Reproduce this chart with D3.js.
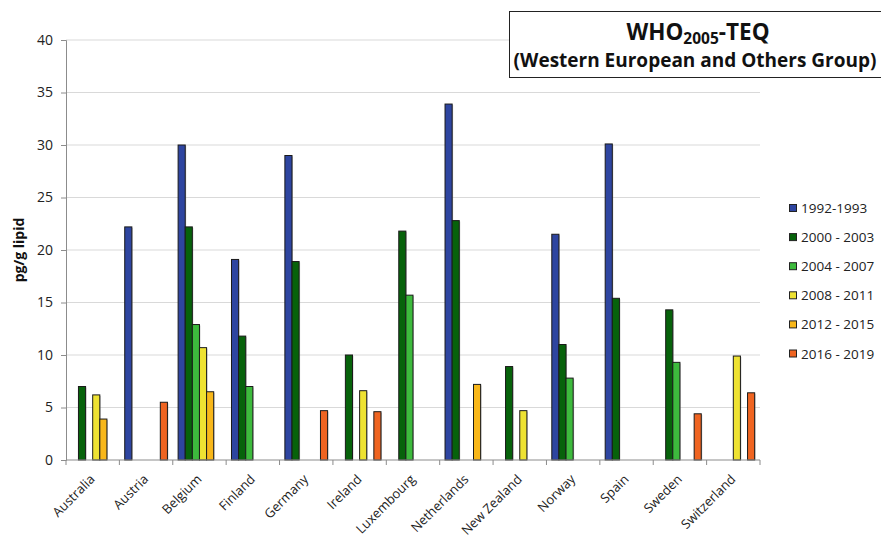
<!DOCTYPE html>
<html><head><meta charset="utf-8">
<script src="https://cdn.jsdelivr.net/npm/d3@7/dist/d3.min.js"></script>
<style>body{margin:0;background:#fff}svg{display:block;font-family:"Open Sans",sans-serif}</style>
</head><body><svg id="c" width="881" height="538"></svg>
<script>
const countries = ["Australia","Austria","Belgium","Finland","Germany","Ireland","Luxembourg","Netherlands","New Zealand","Norway","Spain","Sweden","Switzerland"];
const periods = ["1992-1993","2000 - 2003","2004 - 2007","2008 - 2011","2012 - 2015","2016 - 2019"];
const colors = ["#2E45A0","#07620B","#3DBA3D","#EEE232","#F8B71A","#EF6421"];
const v1992 = [null,22.2,30.0,19.1,29.0,null,null,33.9,null,21.5,30.1,null,null];
const v2000 = [7.0,null,22.2,11.8,18.9,10.0,21.8,22.8,8.9,11.0,15.4,14.3,null];
const v2004 = [null,null,12.9,7.0,null,null,15.7,null,null,7.8,null,9.3,null];
const v2008 = [6.2,null,10.7,null,null,6.6,null,null,4.7,null,null,null,9.9];
const v2012 = [3.9,null,6.5,null,null,null,null,7.2,null,null,null,null,null];
const v2016 = [null,5.5,null,null,4.7,4.6,null,null,null,null,null,4.4,6.4];
const yTicks = [0,5,10,15,20,25,30,35,40];
const series = [v1992,v2000,v2004,v2008,v2012,v2016];

const svg = d3.select("#c");
const L=66,R=760,T=40,B=460;
const x = d3.scaleBand().domain(countries).range([L,R]).paddingInner(0).paddingOuter(0);
const xs = d3.scaleBand().domain(periods).range([0,x.bandwidth()]).paddingInner(0).paddingOuter(0.75);
const y = d3.scaleLinear().domain([0,40]).range([B,T]);

// grid
svg.append("g").selectAll("line").data(yTicks.filter(d=>d>0)).join("line")
  .attr("x1",L).attr("x2",R).attr("y1",d=>y(d)).attr("y2",d=>y(d))
  .attr("stroke","#d9d9d9").attr("stroke-width",1);

// y axis
const ya = svg.append("g").attr("transform",`translate(${L},0)`)
  .call(d3.axisLeft(y).tickValues(yTicks).tickSize(5).tickPadding(8));
ya.select(".domain").attr("stroke","#8c8c8c");
ya.selectAll(".tick line").attr("stroke","#8c8c8c");
ya.selectAll("text").attr("font-size",14).attr("fill","#222").attr("font-family","'Open Sans',sans-serif");

// bars
const flat=[];
series.forEach((s,i)=>s.forEach((v,j)=>{ if(v!=null) flat.push({c:countries[j],p:periods[i],v,i}); }));
const bars = svg.append("g");
bars.selectAll("rect.sh").data(flat).join("rect")
  .attr("x",d=>x(d.c)+xs(d.p)+1).attr("y",d=>y(d.v)+1)
  .attr("width",xs.bandwidth()).attr("height",d=>B-y(d.v)-1)
  .attr("fill","#999").attr("opacity",0.5);
bars.selectAll("rect.b").data(flat).join("rect")
  .attr("x",d=>x(d.c)+xs(d.p)).attr("y",d=>y(d.v))
  .attr("width",xs.bandwidth()).attr("height",d=>B-y(d.v))
  .attr("fill",d=>colors[d.i]).attr("stroke","#1a1a1a").attr("stroke-width",1);

// x axis
const xa = svg.append("g").attr("transform",`translate(0,${B})`);
xa.append("line").attr("x1",L).attr("x2",R).attr("stroke","#8c8c8c");
xa.selectAll("line.t").data(d3.range(countries.length+1)).join("line")
  .attr("x1",i=>L+i*x.bandwidth()).attr("x2",i=>L+i*x.bandwidth()).attr("y1",0).attr("y2",5).attr("stroke","#8c8c8c");
xa.selectAll("text").data(countries).join("text")
  .attr("transform",d=>`translate(${x(d)+x.bandwidth()/2+3},${20}) rotate(-45)`)
  .attr("text-anchor","end").attr("font-size",13).attr("fill","#222").text(d=>d);

// y title
svg.append("text").attr("transform","translate(24,250) rotate(-90)").attr("text-anchor","middle")
  .attr("font-size",14).attr("font-weight","bold").attr("fill","#111").text("pg/g lipid");

// title box
svg.append("rect").attr("x",509.5).attr("y",11.5).attr("width",380).attr("height",66)
  .attr("fill","#fff").attr("stroke","#222").attr("stroke-width",1);
const t1 = svg.append("text").attr("x",698).attr("y",40).attr("text-anchor","middle")
  .attr("font-size",22.5).attr("font-weight","bold").attr("fill","#111");
t1.append("tspan").text("WHO");
t1.append("tspan").attr("font-size",15.5).attr("dy",4).text("2005");
t1.append("tspan").attr("dy",-4).text("-TEQ");
svg.append("text").attr("x",695).attr("y",67).attr("text-anchor","middle")
  .attr("font-size",19).attr("font-weight","bold").attr("fill","#111").text("(Western European and Others Group)");

// legend
const lg = svg.append("g").selectAll("g").data(periods).join("g")
  .attr("transform",(d,i)=>`translate(789,${208+i*29.1})`);
lg.append("rect").attr("x",0.5).attr("y",-3.5).attr("width",7).attr("height",7)
  .attr("fill",(d,i)=>colors[i]).attr("stroke","#222");
lg.append("text").attr("x",12).attr("y",5).attr("font-size",13.5).attr("fill","#222").text(d=>d);
</script></body></html>
